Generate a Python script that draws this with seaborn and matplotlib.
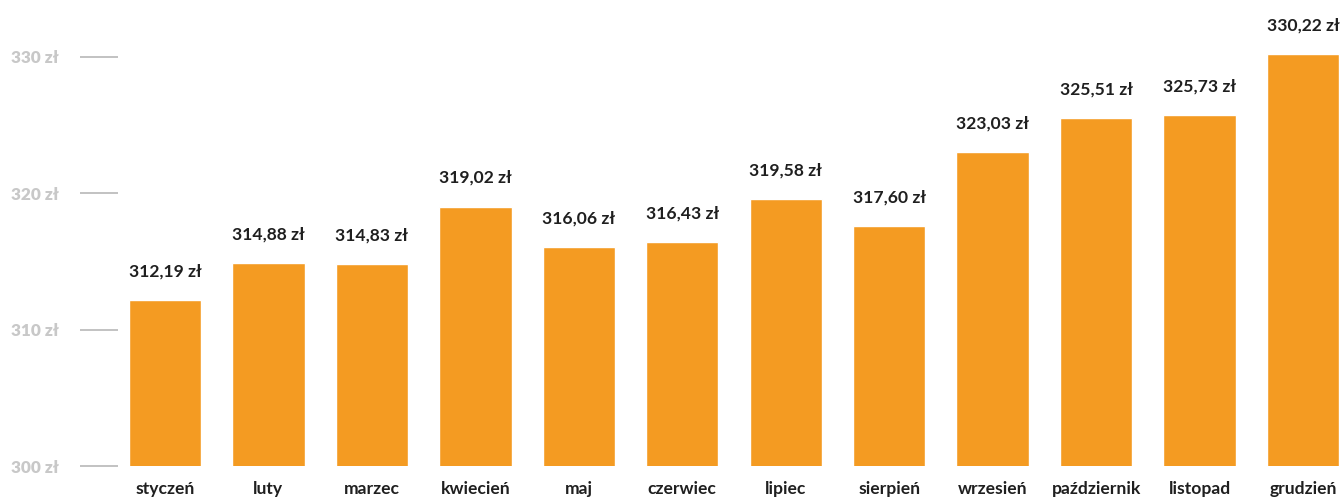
import matplotlib
matplotlib.use("Agg")
import matplotlib.pyplot as plt
import seaborn as sns
import pandas as pd

# Monthly average amounts (PLN)
months = ["styczeń", "luty", "marzec", "kwiecień", "maj", "czerwiec",
          "lipiec", "sierpień", "wrzesień", "październik", "listopad", "grudzień"]
values = [312.19, 314.88, 314.83, 319.02, 316.06, 316.43,
          319.58, 317.60, 323.03, 325.51, 325.73, 330.22]
y_ticks = [300, 310, 320, 330]
y_tick_labels = ["300 zł", "310 zł", "320 zł", "330 zł"]

sns.set_theme(style="white")
plt.rcParams["font.family"] = ["Lato", "DejaVu Sans"]

df = pd.DataFrame({"month": months, "value": values})

fig = plt.figure(figsize=(13.41, 5.01), dpi=100)
ax = fig.add_axes([118 / 1341, 35 / 501, 1223 / 1341, 466 / 501])

sns.barplot(data=df, x="month", y="value", color="#F49B22", saturation=1,
            width=0.7, ax=ax)

ax.set_ylim(300, 334.16)
ax.set_xlim(-0.454, 11.367)

for i, v in enumerate(values):
    ax.annotate(f"{v:.2f}".replace(".", ",") + " zł", (i, v),
                xytext=(0, 17), textcoords="offset points",
                ha="center", va="baseline", fontsize=12.6,
                fontweight="bold", color="#1f1f1f", clip_on=False)

ax.set_yticks(y_ticks)
ax.set_yticklabels(y_tick_labels)
ax.tick_params(axis="y", length=27.4, width=1.3, color="#bdbdbd",
               pad=15, labelsize=12.4, labelcolor="#c8c8c8", left=True)
for lab in ax.get_yticklabels():
    lab.set_fontweight("heavy")

ax.tick_params(axis="x", length=0, pad=11, labelsize=12.6, labelcolor="#1f1f1f")
for lab in ax.get_xticklabels():
    lab.set_fontweight("bold")

ax.set_xlabel("")
ax.set_ylabel("")
for s in ax.spines.values():
    s.set_visible(False)

fig.savefig("out.png", dpi=100)
